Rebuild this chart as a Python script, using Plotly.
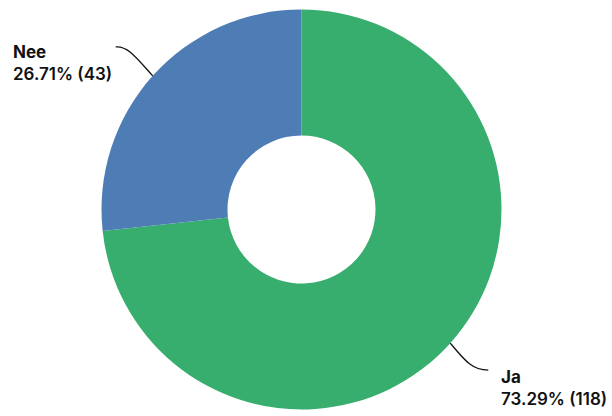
import math
import plotly.graph_objects as go

labels = ["Ja", "Nee"]
values = [118, 43]
colors = ["#38ae6e", "#4e7db5"]

W, H = 612, 416
cx, cy, R = 301.5, 209.5, 200.0
hole = 0.37

total = sum(values)

def px2paper(x, y):
    return x / W, 1 - y / H

fig = go.Figure(go.Pie(
    labels=labels, values=values, sort=False, direction="clockwise",
    rotation=0, hole=hole, marker=dict(colors=colors, line=dict(width=0)),
    textinfo="none", hoverinfo="label+percent+value", showlegend=False,
    domain=dict(x=[(cx - R) / W, (cx + R) / W], y=[1 - (cy + R) / H, 1 - (cy - R) / H]),
))

# slice mid angles (clockwise from 12 o'clock)
mids = []
acc = 0
for v in values:
    mids.append((acc + v / 2) / total * 2 * math.pi)
    acc += v

def edge(a):
    return cx + R * math.sin(a), cy - R * math.cos(a)

shapes = []
annotations = []
# Ja leader (to the lower right)
x1, y1 = edge(mids[0])
fx, fy = x1 + 38, y1 + 27
path = "M {},{} C {},{} {},{} {},{}".format(
    *px2paper(x1, y1), *px2paper(x1 + 15, y1 + 18), *px2paper(x1 + 22, fy), *px2paper(fx, fy))
shapes.append(dict(type="path", xref="paper", yref="paper", path=path,
                   line=dict(color="#111111", width=1.3)))
# Nee leader (to the upper left)
x0, y0 = edge(mids[1])
ex, ey = x0 - 37, y0 - 29
path = "M {},{} C {},{} {},{} {},{}".format(
    *px2paper(ex, ey), *px2paper(ex + 12, ey - 1), *px2paper(ex + 20, ey + 10), *px2paper(x0, y0))
shapes.append(dict(type="path", xref="paper", yref="paper", path=path,
                   line=dict(color="#111111", width=1.3)))

font = dict(family="Inter, Roboto, sans-serif", size=17, color="#111111", weight=600)

def label_text(i):
    pct = values[i] / total * 100
    return "<b>{}</b><br>{:.2f}% ({})".format(labels[i], pct, values[i])

jx, jy = px2paper(499, 365)
annotations.append(dict(text=label_text(0), x=jx, y=jy, xref="paper", yref="paper",
                        xanchor="left", yanchor="top", showarrow=False, align="left", font=font))
nx, ny = px2paper(11, 40)
annotations.append(dict(text=label_text(1), x=nx, y=ny, xref="paper", yref="paper",
                        xanchor="left", yanchor="top", showarrow=False, align="left", font=font))

fig.update_layout(width=W, height=H, margin=dict(l=0, r=0, t=0, b=0),
                  paper_bgcolor="white", plot_bgcolor="white",
                  shapes=shapes, annotations=annotations)
fig.write_html("out.html", config={"displayModeBar": False},
               post_script="document.body.style.margin='0px';")
